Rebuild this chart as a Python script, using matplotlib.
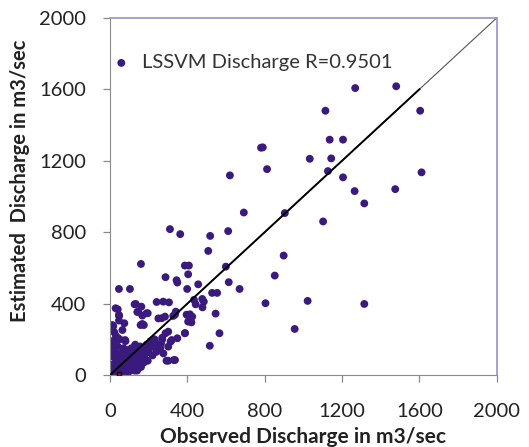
import matplotlib.pyplot as plt

# observed (x) vs estimated (y) discharge
obs_high = [1268, 1480, 1604, 1114, 1136, 1205, 781, 790, 1033, 1144, 812, 620,
            1127, 1205, 1611, 1265, 1475, 1315, 692, 904, 1102, 310, 363, 518,
            611, 508, 898, 160, 387, 408, 599, 852, 287, 344, 348, 404, 456, 614,
            670, 399, 46, 103, 528, 554, 305, 434, 477, 485, 443, 478, 804, 1022,
            1315, 955, 546, 566, 516]
est_high = [1607, 1617, 1480, 1480, 1318, 1318, 1273, 1275, 1211, 1213, 1153, 1118,
            1142, 1107, 1135, 1030, 1041, 961, 910, 907, 860, 817, 789, 779,
            806, 695, 669, 622, 613, 613, 607, 557, 548, 531, 518, 564, 508, 520,
            482, 482, 482, 482, 460, 460, 407, 421, 426, 411, 396, 379, 402, 415,
            398, 258, 344, 234, 164]

obs_mid = [29, 46, 46, 127, 141, 189, 162, 167, 158, 175, 241, 275, 336, 327, 267,
           396, 413, 425, 404, 421, 387, 348, 313, 287, 270, 301, 292, 330, 158,
           12, 64, 40, 133, 146, 195, 47, 17, 167, 74, 250, 284, 340, 388, 301,
           319, 264, 78, 43, 276, 301, 336]
est_mid = [374, 336, 305, 396, 353, 346, 383, 333, 280, 280, 409, 411, 338, 331, 318,
           338, 340, 327, 299, 295, 234, 206, 187, 234, 209, 159, 80, 84, 47,
           280, 252, 368, 398, 355, 346, 331, 274, 286, 290, 317, 327, 355, 235, 243,
           196, 177, 196, 205, 121, 80, 84]

obs_low = [10, 15, 20, 25, 30, 35, 40, 45, 50, 55, 60, 65, 70, 75, 80, 85, 90, 95,
           100, 105, 110, 115, 120, 125, 130, 135, 140, 145, 150, 155, 160, 165,
           170, 180, 185, 190, 200, 210, 220, 230, 20, 30, 10, 50, 80, 5, 15, 25,
           35, 45, 60, 70, 90, 110, 130, 140, 160, 175, 195, 220, 240, 250, 260,
           270, 5, 12, 22, 8, 18, 28, 38, 58, 68, 88, 98, 118, 128, 148]
est_low = [20, 60, 100, 140, 30, 80, 160, 10, 50, 120, 90, 30, 150, 60, 110, 20, 80,
           130, 50, 100, 150, 70, 120, 40, 170, 90, 140, 60, 110, 160, 80, 130,
           100, 150, 120, 170, 140, 190, 160, 200, 180, 220, 250, 200, 190, 5, 40,
           10, 5, 70, 15, 40, 45, 30, 60, 25, 45, 70, 80, 110, 130, 170, 150,
           200, 110, 190, 240, 160, 130, 60, 100, 35, 120, 140, 20, 90, 25, 85]

obs = obs_high + obs_mid + obs_low
est = est_high + est_mid + est_low

ticks = [0, 400, 800, 1200, 1600, 2000]
font = ['Lato', 'DejaVu Sans']
purple = '#3b1a7e'

fig = plt.figure(figsize=(5.29, 4.47), dpi=100)
ax = fig.add_axes([0.208, 0.161, 0.731, 0.799])

ax.plot([0, 2000], [0, 2000], color='#555555', lw=0.8, zorder=1)
ax.plot([0, 1600], [0, 1600], color='black', lw=1.4, zorder=3)
ax.scatter(obs, est, s=32, color=purple, edgecolors='none', zorder=2,
           label='LSSVM Discharge R=0.9501')
ax.scatter([45], [8], marker='s', s=12, color='#b01010', edgecolors='black', zorder=4)

ax.set_xlim(0, 2000)
ax.set_ylim(0, 2000)
ax.set_xticks(ticks)
ax.set_yticks(ticks)
ax.set_xticklabels([str(t) for t in ticks], family=font, fontsize=14.5, color='#222222')
ax.set_yticklabels([str(t) for t in ticks], family=font, fontsize=14.5, color='#222222')
ax.tick_params(direction='out', length=5, width=0.9, color='#888888')
ax.tick_params(axis='y', pad=12)
ax.tick_params(axis='x', pad=15)

for side in ['left', 'bottom']:
    ax.spines[side].set_color('#8a8a8a')
for side in ['top', 'right']:
    ax.spines[side].set_color('#9c8fcc')
    ax.spines[side].set_linewidth(1.2)

ax.set_xlabel('Observed Discharge in m3/sec', family=font, fontsize=15,
              fontweight='bold', color='#222222', labelpad=5)
ax.set_ylabel('Estimated  Discharge in m3/sec', family=font, fontsize=14.5,
              fontweight='bold', color='#222222')
ax.yaxis.set_label_coords(-0.207, 0.545)

leg = ax.legend(loc='upper left', frameon=False, prop={'family': font, 'size': 14.5},
                handletextpad=0.05, borderaxespad=0.6, markerscale=1.0,
                bbox_to_anchor=(-0.075, 0.955))
for t in leg.get_texts():
    t.set_color('#333333')

fig.savefig('out.png', dpi=100)
